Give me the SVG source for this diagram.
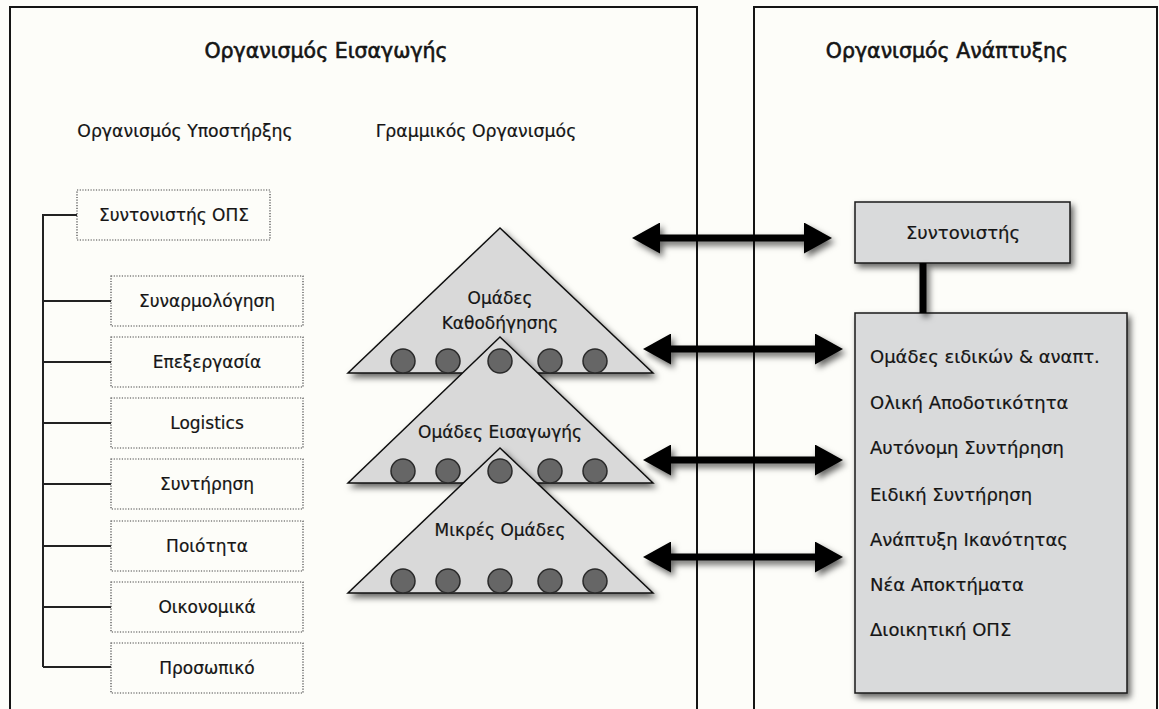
<svg xmlns="http://www.w3.org/2000/svg" width="1159" height="709" viewBox="0 0 1159 709">
<defs>
<style>
 text { font-family: "DejaVu Sans", "Liberation Sans", sans-serif; fill:#151515; stroke:#151515; stroke-width:0.2; }
 .title { font-size:20.5px; text-anchor:middle; stroke-width:0.6; }
 .sub { font-size:17.3px; text-anchor:middle; }
 .lbl { font-size:17px; text-anchor:middle; }
 .rlbl { font-size:18px; text-anchor:middle; }
 .item { font-size:18px; }
 .panel { fill:none; stroke:#151515; stroke-width:2; }
 .dbox { fill:none; stroke:#444; stroke-width:1.2; stroke-dasharray:1.2 1.5; }
 .tree { fill:none; stroke:#222; stroke-width:2; }
 .tri { fill:#d9d9d9; stroke:#111; stroke-width:1.5; }
 .dot { fill:#666; stroke:#2a2a2a; stroke-width:1.5; }
 .gbox { fill:#d9dadb; stroke:#1a1a1a; stroke-width:1.5; }
 .arrow { stroke:#000; stroke-width:7; marker-start:url(#ah); marker-end:url(#ah); }
</style>
<filter id="sh" filterUnits="userSpaceOnUse" x="0" y="0" width="1159" height="709">
 <feDropShadow dx="3" dy="4" stdDeviation="3" flood-color="#000" flood-opacity="0.6"/>
</filter>
<marker id="ah" markerUnits="userSpaceOnUse" markerWidth="28" markerHeight="31" viewBox="0 0 28 31" refX="4" refY="15.5" orient="auto-start-reverse">
 <path d="M0,0 L28,15.5 L0,31 z" fill="#000"/>
</marker>
</defs>

<rect x="0" y="0" width="1159" height="709" fill="#fdfdf9"/>

<g id="panel-eisagogis">
 <rect class="panel" x="10" y="7" width="687" height="720"/>
 <text class="title" x="326" y="58">Οργανισμός Εισαγωγής</text>
 <text class="sub" x="185" y="137">Οργανισμός Υποστήρξης</text>
 <text class="sub" x="476" y="137">Γραμμικός Οργανισμός</text>
</g>

<g id="panel-anaptyxis">
 <rect class="panel" x="754" y="7" width="403" height="720"/>
 <text class="title" x="947" y="58">Οργανισμός Ανάπτυξης</text>
</g>

<g id="tree-lines">
 <path class="tree" d="M77,215 H43 V667 M43,301 H111 M43,362 H111 M43,423 H111 M43,484 H111 M43,546 H111 M43,607 H111 M43,667 H111"/>
</g>

<g id="syntonistis-ops"><rect class="dbox" x="77" y="190" width="193" height="50"/><text class="lbl" x="174" y="221">Συντονιστής ΟΠΣ</text></g>
<g id="synarmologisi"><rect class="dbox" x="111" y="276" width="192" height="50"/><text class="lbl" x="207" y="307">Συναρμολόγηση</text></g>
<g id="epexergasia"><rect class="dbox" x="111" y="337" width="192" height="50"/><text class="lbl" x="207" y="368">Επεξεργασία</text></g>
<g id="logistics"><rect class="dbox" x="111" y="398" width="192" height="50"/><text class="lbl" x="207" y="429">Logistics</text></g>
<g id="syntirisi"><rect class="dbox" x="111" y="459" width="192" height="50"/><text class="lbl" x="207" y="490">Συντήρηση</text></g>
<g id="poiotita"><rect class="dbox" x="111" y="521" width="192" height="50"/><text class="lbl" x="207" y="552">Ποιότητα</text></g>
<g id="oikonomika"><rect class="dbox" x="111" y="582" width="192" height="50"/><text class="lbl" x="207" y="613">Οικονομικά</text></g>
<g id="prosopiko"><rect class="dbox" x="111" y="643" width="192" height="50"/><text class="lbl" x="207" y="674">Προσωπικό</text></g>

<g id="tri-kathodigisis">
 <polygon class="tri" filter="url(#sh)" points="500,228 348,373 653,373"/>
 <text class="lbl" x="500" y="304">Ομάδες</text>
 <text class="lbl" x="500" y="329">Καθοδήγησης</text>
</g>
<g id="tri-eisagogis">
 <polygon class="tri" filter="url(#sh)" points="500,337 348,483 653,483"/>
 <text class="lbl" x="500" y="438">Ομάδες Εισαγωγής</text>
</g>
<g id="tri-mikres">
 <polygon class="tri" filter="url(#sh)" points="500,448 348,593 653,593"/>
 <text class="lbl" x="500" y="536">Μικρές Ομάδες</text>
</g>
<g id="members">
 <circle class="dot" cx="403" cy="361" r="12"/><circle class="dot" cx="448" cy="361" r="12"/><circle class="dot" cx="500" cy="361" r="12"/><circle class="dot" cx="550" cy="361" r="12"/><circle class="dot" cx="595" cy="361" r="12"/>
 <circle class="dot" cx="403" cy="471" r="12"/><circle class="dot" cx="448" cy="471" r="12"/><circle class="dot" cx="500" cy="471" r="12"/><circle class="dot" cx="550" cy="471" r="12"/><circle class="dot" cx="595" cy="471" r="12"/>
 <circle class="dot" cx="403" cy="581" r="12"/><circle class="dot" cx="448" cy="581" r="12"/><circle class="dot" cx="500" cy="581" r="12"/><circle class="dot" cx="550" cy="581" r="12"/><circle class="dot" cx="595" cy="581" r="12"/>
</g>

<g id="syntonistis">
 <rect class="gbox" filter="url(#sh)" x="855" y="202" width="215" height="61"/>
 <text class="rlbl" x="963" y="239">Συντονιστής</text>
</g>
<g id="omades-list">
 <rect class="gbox" filter="url(#sh)" x="855" y="313" width="272" height="380"/>
 <text class="item" x="870" y="363">Ομάδες ειδικών &amp; αναπτ.</text>
 <text class="item" x="870" y="409">Ολική Αποδοτικότητα</text>
 <text class="item" x="870" y="454">Αυτόνομη Συντήρηση</text>
 <text class="item" x="870" y="501">Ειδική Συντήρηση</text>
 <text class="item" x="870" y="546">Ανάπτυξη Ικανότητας</text>
 <text class="item" x="870" y="591">Νέα Αποκτήματα</text>
 <text class="item" x="870" y="636">Διοικητική ΟΠΣ</text>
</g>

<g id="connectors" filter="url(#sh)">
 <line x1="923" y1="263" x2="923" y2="313" stroke="#000" stroke-width="7"/>
 <line class="arrow" x1="656" y1="238" x2="808" y2="238"/>
 <line class="arrow" x1="667" y1="349" x2="819" y2="349"/>
 <line class="arrow" x1="667" y1="460" x2="819" y2="460"/>
 <line class="arrow" x1="667" y1="557" x2="819" y2="557"/>
</g>
</svg>
